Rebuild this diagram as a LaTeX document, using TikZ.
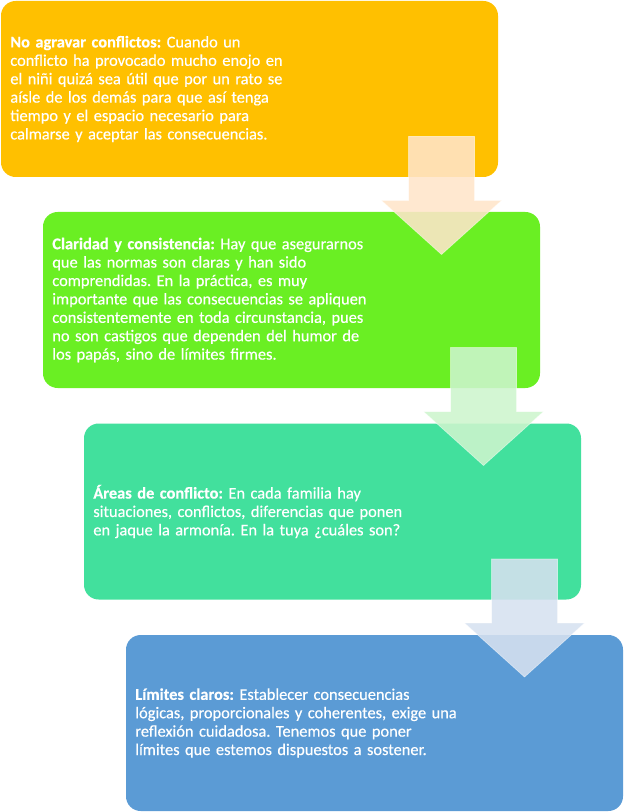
\documentclass[tikz,border=0pt]{standalone}
\usepackage{fontspec}
\setmainfont{Carlito}
\newfontfamily\stagefont{Carlito}[FakeBold=0.4]
\usetikzlibrary{calc}

\definecolor{cOrange}{RGB}{255,192,0}
\definecolor{cLime}{RGB}{106,239,35}
\definecolor{cTeal}{RGB}{66,224,157}
\definecolor{cBlue}{RGB}{91,155,213}
\definecolor{aOrange}{RGB}{255,229,202}
\definecolor{aLime}{RGB}{205,245,205}
\definecolor{aTeal}{RGB}{214,225,240}

\tikzset{every picture/.style={line width=0.75pt}}
\tikzset{
  stage/.style={rectangle, rounded corners=11pt, minimum width=372.75pt, minimum height=132pt,
    inner xsep=7pt, text width=358.75pt, align=left, text=white,
    font=\stagefont\fontsize{12.3}{13.8}\selectfont\frenchspacing},
  flow/.style={draw=white, draw opacity=0.5, line width=0.5, fill opacity=0.88}
}

\begin{document}
\begin{tikzpicture}[x=0.75pt,y=0.75pt,yscale=-1,xscale=1]
\useasboundingbox (0,0) rectangle (625,812);

%Rounded Rect
\node[stage, fill=cOrange] (agravar) at (249.5,89) {\textbf{No agravar conflictos:} Cuando un\\conflicto ha provocado mucho enojo en\\el niñi quizá sea útil que por un rato se\\aísle de los demás para que así tenga\\tiempo y el espacio necesario para\\calmarse y aceptar las consecuencias.};
%Rounded Rect
\node[stage, fill=cLime] (claridad) at (291.5,300) {\textbf{Claridad y consistencia:} Hay que asegurarnos\\que las normas son claras y han sido\\comprendidas. En la práctica, es muy\\importante que las consecuencias se apliquen\\consistentemente en toda circunstancia, pues\\no son castigos que dependen del humor de\\los papás, sino de límites firmes.};
%Rounded Rect
\node[stage, fill=cTeal] (areas) at (332.5,511.5) {\textbf{Áreas de conflicto:} En cada familia hay\\situaciones, conflictos, diferencias que ponen\\en jaque la armonía. En la tuya ¿cuáles son?};
%Rounded Rect
\node[stage, fill=cBlue] (limites) at (374.5,723) {\textbf{Límites claros:} Establecer consecuencias\\lógicas, proporcionales y coherentes, exige una\\reflexión cuidadosa. Tenemos que poner\\límites que estemos dispuestos a sostener.};

%Down Arrow
\draw[flow, fill=aOrange] ($(agravar.south east)+(-90,-41)$) -- ++(66,0) -- ++(0,64) -- ++(27,0) -- ++(-60,54) -- ++(-60,-54) -- ++(27,0) -- cycle;
%Down Arrow
\draw[flow, fill=aLime] ($(claridad.south east)+(-90,-41)$) -- ++(66,0) -- ++(0,64) -- ++(27,0) -- ++(-60,54) -- ++(-60,-54) -- ++(27,0) -- cycle;
%Down Arrow
\draw[flow, fill=aTeal] ($(areas.south east)+(-90,-41)$) -- ++(66,0) -- ++(0,64) -- ++(27,0) -- ++(-60,54) -- ++(-60,-54) -- ++(27,0) -- cycle;

\end{tikzpicture}
\end{document}
